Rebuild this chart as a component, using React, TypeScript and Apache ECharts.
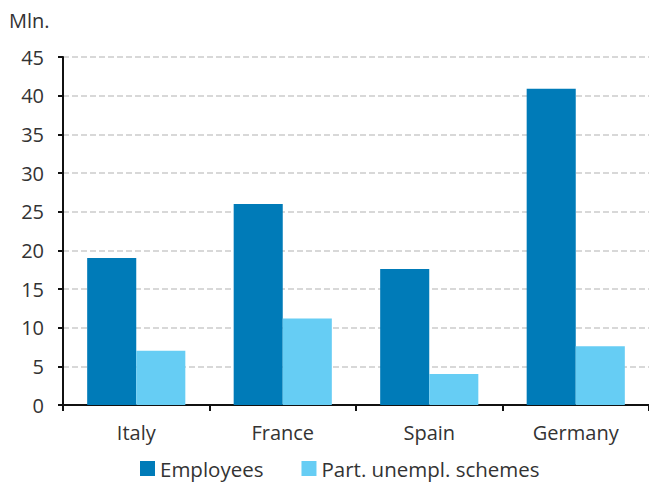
import React, { useEffect, useRef } from "react";
import * as echarts from "echarts";

const categories = ["Italy", "France", "Spain", "Germany"];
const employees = [19.0, 26.0, 17.6, 40.9];
const partUnempl = [7.0, 11.2, 4.0, 7.6];
const yTicks = { min: 0, max: 45, interval: 5 };

export default function App() {
  const ref = useRef<HTMLDivElement>(null);
  useEffect(() => {
    if (!ref.current) return;
    const chart = echarts.init(ref.current, undefined, { renderer: "svg" });
    const font = "'Open Sans', 'Noto Sans', sans-serif";
    chart.setOption({
      animation: false,
      backgroundColor: "#ffffff",
      textStyle: { fontFamily: font },
      grid: { left: 63, top: 57, right: 0, bottom: 77, containLabel: false },
      graphic: [
        {
          type: "text",
          left: 9,
          top: 10,
          style: { text: "Mln.", fontSize: 20, fill: "#333", fontFamily: font },
        },
      ],
      legend: {
        bottom: -2,
        left: 135,
        itemWidth: 15,
        itemHeight: 15,
        itemGap: 38,
        icon: "rect",
        textStyle: { fontSize: 20.5, color: "#333", fontFamily: font },
        data: ["Employees", "Part. unempl. schemes"],
      },
      xAxis: {
        type: "category",
        data: categories,
        axisLine: { lineStyle: { color: "#111", width: 2 } },
        axisTick: { show: true, length: 6, lineStyle: { color: "#111", width: 2 } },
        axisLabel: { fontSize: 20, color: "#333", margin: 17, fontFamily: font },
      },
      yAxis: {
        type: "value",
        min: yTicks.min,
        max: yTicks.max,
        interval: yTicks.interval,
        axisLine: { show: true, lineStyle: { color: "#111", width: 2 } },
        axisTick: { show: true, length: 5, lineStyle: { color: "#111", width: 2 } },
        axisLabel: { fontSize: 20, color: "#333", margin: 19, fontFamily: font },
        splitLine: { show: true, lineStyle: { color: "#cccccc", type: [6, 3], width: 1.5 } },
      },
      series: [
        {
          name: "Employees",
          type: "bar",
          data: employees,
          itemStyle: { color: "#007BB8" },
          barGap: "0%",
          barCategoryGap: "33%",
        },
        {
          name: "Part. unempl. schemes",
          type: "bar",
          data: partUnempl,
          itemStyle: { color: "#66CDF4" },
          barGap: "0%",
          barCategoryGap: "33%",
        },
      ],
    });
    return () => chart.dispose();
  }, []);
  return (
    <div
      ref={ref}
      style={{ position: "fixed", left: 0, top: 0, width: 649, height: 482 }}
    />
  );
}
